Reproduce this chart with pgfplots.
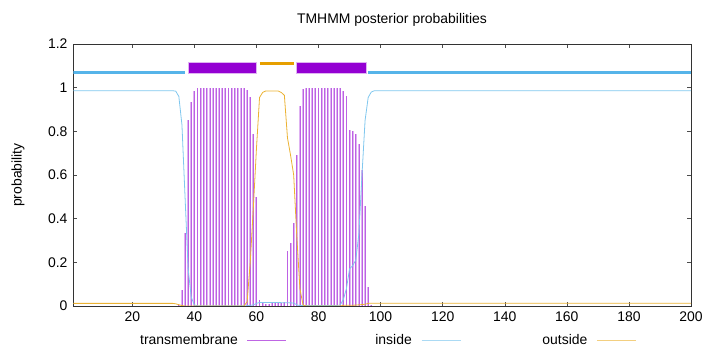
\documentclass[border=0pt]{standalone}
\usepackage{fontspec}
\setmainfont{Liberation Sans}
\usepackage{pgfplots}
\pgfplotsset{compat=1.18}
\usepackage{pgfplotstable}
\definecolor{tmc}{HTML}{9400D3}
\definecolor{inc}{HTML}{56B4E9}
\definecolor{outc}{HTML}{E69F00}

\pgfplotstableread{
x y
35 0.005
36 0.073
37 0.335
38 0.85
39 0.935
40 0.983
41 0.998
42 0.998
43 0.998
44 0.998
45 0.998
46 0.998
47 0.998
48 0.998
49 0.998
50 0.998
51 0.998
52 0.998
53 0.998
54 0.998
55 0.998
56 0.998
57 0.99
58 0.957
59 0.79
60 0.50
61 0.028
62 0.012
63 0.01
64 0.01
65 0.012
66 0.012
67 0.012
68 0.015
69 0.02
70 0.25
71 0.29
72 0.38
73 0.69
74 0.915
75 0.995
76 0.998
77 0.998
78 0.998
79 0.998
80 0.998
81 0.998
82 0.998
83 0.998
84 0.998
85 0.998
86 0.998
87 0.998
88 0.983
89 0.964
90 0.807
91 0.80
92 0.789
93 0.742
94 0.624
95 0.456
96 0.086
97 0.005
}\tmdata

\pgfplotstableread{
x y
1 0.986
33 0.986
34 0.984
35 0.96
36 0.83
37 0.5
38 0.17
39 0.04
40 0.005
41 0.001
57 0.001
58 0.003
59 0.005
60 0.012
61 0.016
66 0.016
72 0.014
73 0.005
74 0.002
86 0.002
87 0.005
88 0.03
89 0.08
90 0.17
91 0.185
92 0.21
93 0.33
94 0.6
95 0.85
96 0.955
97 0.98
98 0.986
200 0.986
}\indata

\pgfplotstableread{
x y
1 0.012
33 0.012
34 0.01
35 0.006
36 0.002
37 0
56 0
57 0.02
58 0.2
59 0.45
60 0.72
61 0.955
62 0.978
63 0.985
67 0.985
68 0.978
69 0.965
70 0.77
71 0.69
72 0.6
73 0.32
74 0.08
75 0.005
76 0
87 0
88 0.003
92 0.004
95 0.008
96 0.012
97 0.013
200 0.013
}\outdata

\begin{document}
\fontsize{14}{16}\selectfont
\begin{tikzpicture}
\path[use as bounding box] (-73.3bp,-46bp) rectangle (646.7bp,306bp);
\begin{axis}[
  at={(0,0)}, anchor=south west,
  scale only axis, width=617.7bp, height=262bp,
  xmin=1, xmax=200, ymin=0, ymax=1.2,
  xtick={20,40,...,200}, ytick={0,0.2,0.4,0.6,0.8,1,1.2},
  tick pos=both, xticklabel pos=lower, yticklabel pos=left,
  tick align=inside, major tick length=4bp,
  tick style={black!70, line width=0.5bp},
  axis line style={black!80, line width=0.7bp},
  /pgf/number format/assume math mode=true,
  ticklabel style={font=\fontsize{14}{16}\selectfont},
  xticklabel style={yshift=-1bp},
  yticklabel style={xshift=-1bp},
]
\addplot[ycomb, color=tmc!30!white, line width=1.9bp, forget plot] table {\tmdata};
\addplot[ycomb, color=tmc!62!white, line width=0.7bp, forget plot] table {\tmdata};
\addplot[color=inc!75!white, line width=0.8bp, forget plot] table {\indata};
\addplot[color=outc!80!white, line width=0.8bp, forget plot] table {\outdata};
\addplot[color=black!50, line width=0.8bp, forget plot] coordinates {(1,0) (200,0)};
% topology
\addplot[color=inc, line width=2.3bp, forget plot] coordinates {(1,1.07) (37,1.07)};
\addplot[color=inc, line width=2.3bp, forget plot] coordinates {(96,1.07) (200,1.07)};
\addplot[color=outc, line width=2.3bp, forget plot] coordinates {(61,1.11) (72,1.11)};
\addplot[fill=tmc, draw=tmc!30!white, line width=0.6bp, forget plot] coordinates {(38,1.067) (60,1.067) (60,1.116) (38,1.116)} -- cycle;
\addplot[fill=tmc, draw=tmc!30!white, line width=0.6bp, forget plot] coordinates {(73,1.067) (95.4,1.067) (95.4,1.116) (73,1.116)} -- cycle;
\end{axis}
\node at (318.7bp,286bp) {TMHMM posterior probabilities};
\node[rotate=90] at (-55.3bp,131bp) {probability};
\node[anchor=east, inner sep=0pt] at (164.7bp,-34bp) {transmembrane};
\draw[tmc!60!white, line width=0.8bp] (173.7bp,-34bp) -- (212.7bp,-34bp);
\node[anchor=east, inner sep=0pt] at (338.7bp,-34bp) {inside};
\draw[inc!50!white, line width=0.8bp] (348.2bp,-34bp) -- (387.7bp,-34bp);
\node[anchor=east, inner sep=0pt] at (514.3bp,-34bp) {outside};
\draw[outc!50!white, line width=0.8bp] (523.7bp,-34bp) -- (562.7bp,-34bp);
\end{tikzpicture}
\end{document}
